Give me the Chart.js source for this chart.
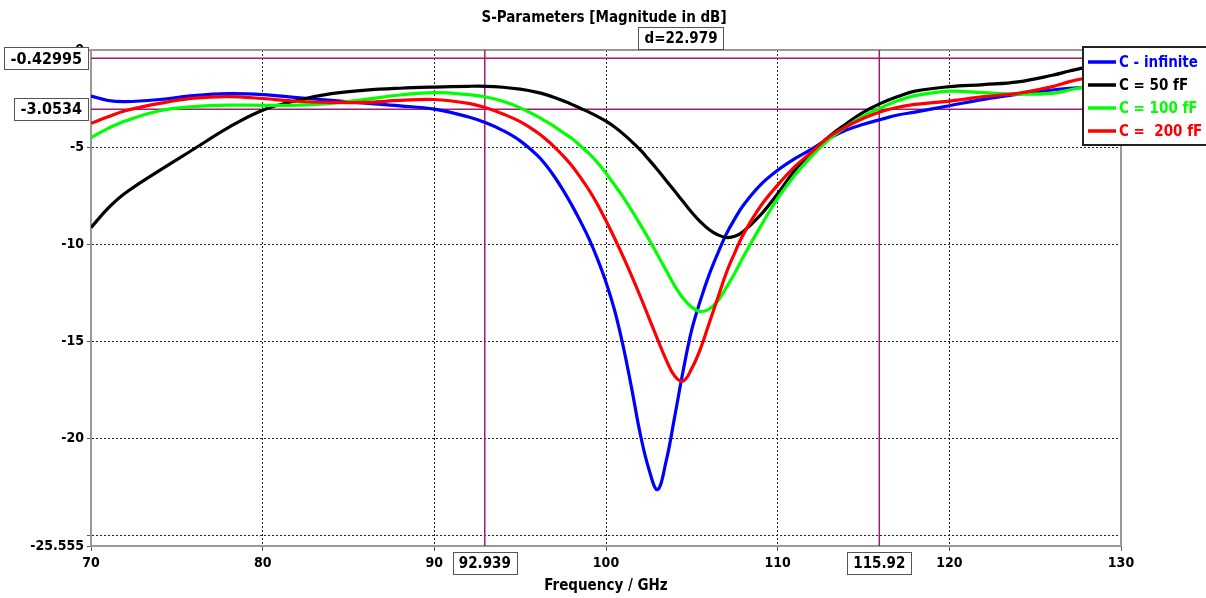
<!DOCTYPE html>
<html><head><meta charset="utf-8">
<script src="https://cdn.jsdelivr.net/npm/chart.js@4/dist/chart.umd.min.js"></script>
<style>html,body{margin:0;padding:0;background:#fff;overflow:hidden}#wrap{width:1206px;height:598px}</style>
</head><body><div id="wrap"><canvas id="c" width="1206" height="598"></canvas></div>
<script>
const freq = [70,71,72,74,76,78,80,82,84,86,88,90,92,93,94,95,96,96.5,97,97.5,98,98.5,99,99.5,100,100.5,101,101.5,102,102.5,103,103.5,104,104.5,105,105.5,106,106.5,107,107.5,108,109,110,111,112,113,114,115,116,117,118,120,122,124,126,127,128,129,130];
const sInfinite = [-2.37,-2.6,-2.66,-2.55,-2.35,-2.25,-2.3,-2.45,-2.6,-2.74,-2.88,-3.05,-3.45,-3.75,-4.15,-4.68,-5.43,-5.93,-6.53,-7.22,-7.98,-8.81,-9.71,-10.76,-11.96,-13.41,-15.26,-17.46,-19.8,-21.6,-22.65,-21.2,-18.9,-16.5,-14.4,-12.9,-11.6,-10.5,-9.5,-8.7,-8.0,-6.95,-6.2,-5.6,-5.1,-4.55,-4.12,-3.83,-3.58,-3.35,-3.2,-2.87,-2.54,-2.28,-2.06,-1.98,-1.93,-1.9,-1.86];
const s50fF = [-9.15,-8.15,-7.37,-6.2,-5.1,-4.0,-3.1,-2.6,-2.25,-2.07,-1.97,-1.91,-1.87,-1.87,-1.92,-2.02,-2.18,-2.3,-2.45,-2.62,-2.8,-3.0,-3.2,-3.42,-3.67,-3.97,-4.32,-4.72,-5.15,-5.65,-6.17,-6.72,-7.27,-7.82,-8.37,-8.85,-9.25,-9.52,-9.66,-9.6,-9.35,-8.5,-7.4,-6.2,-5.25,-4.45,-3.8,-3.2,-2.75,-2.4,-2.12,-1.89,-1.78,-1.64,-1.3,-1.08,-0.88,-0.72,-0.56];
const s100fF = [-4.52,-4.04,-3.66,-3.13,-2.92,-2.84,-2.85,-2.84,-2.75,-2.54,-2.32,-2.2,-2.3,-2.42,-2.64,-2.98,-3.42,-3.68,-3.95,-4.25,-4.55,-4.93,-5.33,-5.8,-6.35,-6.95,-7.58,-8.27,-9.0,-9.75,-10.55,-11.35,-12.15,-12.8,-13.25,-13.47,-13.35,-12.95,-12.25,-11.5,-10.65,-9.1,-7.65,-6.45,-5.45,-4.6,-3.95,-3.4,-2.98,-2.62,-2.35,-2.12,-2.2,-2.27,-2.23,-2.06,-1.88,-1.75,-1.62];
const s200fF = [-3.78,-3.44,-3.13,-2.75,-2.48,-2.4,-2.5,-2.64,-2.7,-2.7,-2.6,-2.55,-2.75,-2.98,-3.3,-3.69,-4.25,-4.6,-5.0,-5.45,-5.95,-6.55,-7.2,-7.95,-8.8,-9.7,-10.65,-11.65,-12.7,-13.8,-14.9,-15.95,-16.8,-17.05,-16.4,-15.4,-14.1,-12.8,-11.5,-10.45,-9.5,-8.05,-6.96,-6.01,-5.24,-4.47,-3.95,-3.52,-3.18,-2.95,-2.8,-2.63,-2.4,-2.23,-1.89,-1.63,-1.44,-1.3,-1.15];
const seriesLabels = ['C - infinite','C = 50 fF','C = 100 fF','C =  200 fF'];
const seriesColors = ['#0000ff','#000000','#00ff00','#ff0000'];
const xTicks = [70,80,90,100,110,120,130];
const yTicks = [-25.555,-25,-20,-15,-10,-5,0];
const yTickLabels = ['-25.555','','-20','-15','-10','-5','0'];
const markerX = [92.939,115.92];
const markerXLabels = ['92.939','115.92'];
const markerY = [-0.42995,-3.0534];
const markerYLabels = ['-0.42995','-3.0534'];
const titleText = 'S-Parameters [Magnitude in dB]';
const deltaText = 'd=22.979';
const xTitle = 'Frequency / GHz';

const FAM = "'DejaVu Sans Condensed','DejaVu Sans',sans-serif";
const MARK = '#a01c6e';
const allSeries = [sInfinite, s50fF, s100fF, s200fF];

const datasets = allSeries.map((arr, k) => ({
  label: seriesLabels[k],
  data: freq.map((f, i) => ({x: f, y: arr[i]})),
  borderColor: seriesColors[k],
  backgroundColor: seriesColors[k],
  borderWidth: 3.2,
  pointRadius: 0,
  fill: false,
  tension: 0.4,
  order: 3 - k
}));

function boxText(ctx, text, cx, cy, font) {
  ctx.font = font;
  const w = ctx.measureText(text).width + 12;
  const h = 22;
  ctx.fillStyle = '#fff';
  ctx.fillRect(cx - w / 2, cy - h / 2, w, h);
  ctx.strokeStyle = '#555';
  ctx.lineWidth = 1;
  ctx.strokeRect(Math.round(cx - w / 2) + 0.5, Math.round(cy - h / 2) + 0.5, Math.round(w), h);
  ctx.fillStyle = '#000';
  ctx.textAlign = 'center';
  ctx.textBaseline = 'middle';
  ctx.fillText(text, cx, cy + 1);
}

const decor = {
  id: 'decor',
  beforeDatasetsDraw(chart) {
    const {ctx, chartArea: a, scales: {x, y}} = chart;
    ctx.save();
    ctx.strokeStyle = '#999';
    ctx.lineWidth = 2;
    ctx.beginPath();
    ctx.moveTo(a.left, a.top); ctx.lineTo(a.right, a.top); ctx.lineTo(a.right, a.bottom);
    ctx.stroke();
    ctx.strokeStyle = MARK;
    ctx.lineWidth = 1.5;
    markerX.forEach(v => {
      const px = x.getPixelForValue(v);
      ctx.beginPath(); ctx.moveTo(px, a.top); ctx.lineTo(px, a.bottom); ctx.stroke();
    });
    markerY.forEach(v => {
      const py = y.getPixelForValue(v);
      ctx.beginPath(); ctx.moveTo(a.left, py); ctx.lineTo(a.right, py); ctx.stroke();
    });
    ctx.restore();
  },
  afterDraw(chart) {
    const {ctx, chartArea: a, scales: {x, y}} = chart;
    ctx.save();
    ctx.font = 'bold 15px ' + FAM;
    ctx.fillStyle = '#000';
    ctx.textAlign = 'center';
    ctx.textBaseline = 'middle';
    ctx.fillText(titleText, 604, 18);
    boxText(ctx, deltaText, 681, 38, 'bold 15px ' + FAM);
    const mf = 'bold 16px ' + FAM;
    markerY.forEach((v, i) => {
      ctx.font = mf;
      const w = ctx.measureText(markerYLabels[i]).width + 12;
      boxText(ctx, markerYLabels[i], a.left - 3 - w / 2, y.getPixelForValue(v), mf);
    });
    markerX.forEach((v, i) => {
      boxText(ctx, markerXLabels[i], x.getPixelForValue(v), a.bottom + 17, 'bold 15px ' + FAM);
    });
    const lx = 1083, ly = 47, lw = 140, lh = 98;
    ctx.fillStyle = '#fff';
    ctx.fillRect(lx, ly, lw, lh);
    ctx.strokeStyle = '#222';
    ctx.lineWidth = 2;
    ctx.strokeRect(lx, ly, lw, lh);
    chart.data.datasets.forEach((ds, i) => {
      const cy = ly + 15 + i * 23;
      ctx.strokeStyle = ds.borderColor;
      ctx.lineWidth = 3.5;
      ctx.beginPath(); ctx.moveTo(lx + 5, cy); ctx.lineTo(lx + 33, cy); ctx.stroke();
      ctx.fillStyle = ds.borderColor;
      ctx.font = 'bold 15px ' + FAM;
      ctx.textAlign = 'left';
      ctx.textBaseline = 'middle';
      ctx.fillText(ds.label, lx + 36, cy + 1);
    });
    ctx.restore();
  }
};

const tickFont = {family: FAM, size: 14, weight: 'bold'};

new Chart(document.getElementById('c'), {
  type: 'line',
  data: {datasets},
  options: {
    responsive: false,
    animation: false,
    devicePixelRatio: 1,
    layout: {padding: {left: 0, right: 85, top: 50, bottom: 0}},
    plugins: {legend: {display: false}, tooltip: {enabled: false}, title: {display: false}},
    scales: {
      x: {
        type: 'linear', min: 70, max: 130,
        afterBuildTicks: s => { s.ticks = xTicks.map(v => ({value: v})); },
        afterFit: s => { s.height = 52; },
        ticks: {font: tickFont, color: '#000', autoSkip: false, maxRotation: 0, padding: 4, callback: v => String(v)},
        grid: {color: c => (c.tick && (c.tick.value === 70 || c.tick.value === 130)) ? 'rgba(0,0,0,0)' : '#222', lineWidth: 1, tickLength: 5, tickColor: '#555', drawTicks: true},
        border: {display: true, color: '#999', width: 2, dash: [2, 2]},
        title: {display: true, text: xTitle, color: '#000', font: {family: FAM, size: 15, weight: 'bold'}, padding: {top: 0, bottom: 3}}
      },
      y: {
        type: 'linear', min: -25.555, max: 0,
        afterBuildTicks: s => { s.ticks = yTicks.map(v => ({value: v})); },
        afterFit: s => { s.width = 91; },
        ticks: {font: tickFont, color: '#000', autoSkip: false, padding: 3, callback: (v, i) => yTickLabels[i]},
        grid: {color: c => (c.tick && (c.tick.value === 0 || c.tick.value === -25.555)) ? 'rgba(0,0,0,0)' : '#222', lineWidth: 1, tickLength: 4, tickColor: '#555', drawTicks: true},
        border: {display: true, color: '#999', width: 2, dash: [2, 2]}
      }
    }
  },
  plugins: [decor]
});
</script></body></html>
